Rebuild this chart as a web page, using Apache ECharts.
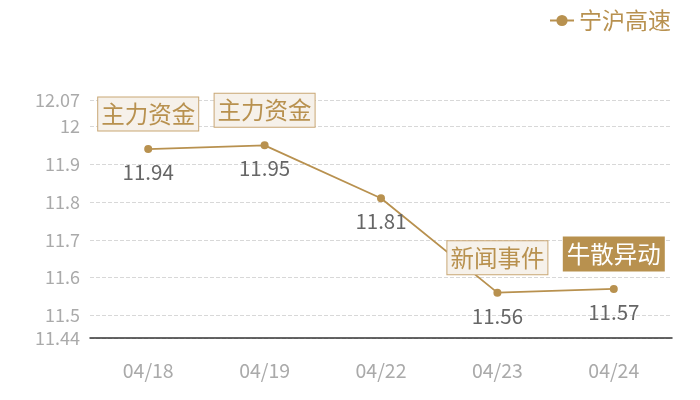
<!DOCTYPE html>
<html><head><meta charset="utf-8">
<script src="https://cdn.jsdelivr.net/npm/echarts@6/dist/echarts.min.js"></script>
<style>html,body{margin:0;padding:0;background:#fff}#c{width:700px;height:400px}</style>
</head><body><div id="c"></div>
<script>
var categories = ['04/18','04/19','04/22','04/23','04/24'];
var seriesName = '宁沪高速';
var values = [11.94, 11.95, 11.81, 11.56, 11.57];
var yMin = 11.44, yMax = 12.07;
var eventLabels = [
  {idx:0, text:'主力资金', style:'light'},
  {idx:1, text:'主力资金', style:'light'},
  {idx:3, text:'新闻事件', style:'light'},
  {idx:4, text:'牛散异动', style:'dark'}
];
var gold = '#b8914f';
var font = '"Noto Sans CJK SC","Noto Sans",sans-serif';
var markData = eventLabels.map(function(e){
  var dark = e.style === 'dark';
  return {
    coord:[categories[e.idx], values[e.idx]],
    label:{
      show:true, formatter:e.text, position:'inside', offset:[0,-35],
      fontSize:23.5, lineHeight:26, fontFamily:font,
      color: dark ? '#fff' : gold,
      backgroundColor: dark ? gold : '#f6f1ea',
      borderColor: dark ? gold : '#c9a775',
      borderWidth:1, padding:[4,3,3,3]
    }
  };
});
var chart = echarts.init(document.getElementById('c'));
chart.setOption({
  animation:false,
  textStyle:{fontFamily:font},
  legend:{
    right:24, top:4, itemWidth:24, itemHeight:14, itemGap:8,
    textStyle:{color:gold, fontSize:23, fontFamily:font},
    data:[seriesName]
  },
  grid:{left:90, right:28, top:100, bottom:62},
  xAxis:{
    type:'category', data:categories, boundaryGap:true,
    axisLine:{lineStyle:{color:'#333', width:1.5}},
    axisTick:{show:false},
    axisLabel:{color:'#aaa', fontSize:19.5, margin:23, fontFamily:font}
  },
  yAxis:{
    type:'value', min:yMin, max:yMax, splitNumber:5,
    axisLine:{show:false}, axisTick:{show:false},
    axisLabel:{color:'#aaa', fontSize:18, margin:10, fontFamily:font, showMinLabel:true, showMaxLabel:true},
    splitLine:{lineStyle:{color:'#d8d8d8', type:'dashed'}}
  },
  series:[{
    name:seriesName, type:'line', data:values,
    symbol:'circle', symbolSize:8,
    lineStyle:{color:gold, width:1.8},
    itemStyle:{color:gold},
    label:{show:true, position:'bottom', distance:9, color:'#666', fontSize:20.5, fontFamily:font},
    markPoint:{
      symbol:'circle', symbolSize:1,
      itemStyle:{color:'rgba(0,0,0,0)'},
      data:markData
    }
  }]
});
</script></body></html>
